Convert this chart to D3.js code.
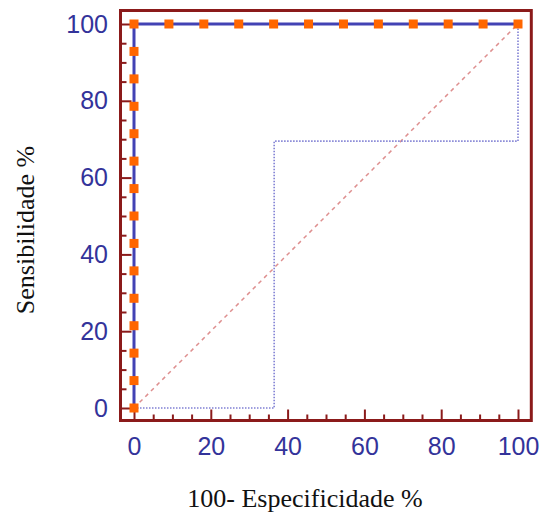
<!DOCTYPE html>
<html>
<head>
<meta charset="utf-8">
<script src="https://cdn.jsdelivr.net/npm/d3@7"></script>
<style>
  html, body { margin: 0; padding: 0; background: #fff; }
  svg { display: block; }
</style>
</head>
<body>
<svg id="chart" width="541" height="517"></svg>
<script>
// ---- Data ----
const rocFpr = [0, 0, 0, 0, 0, 0, 0, 0, 0, 0, 0, 0, 0, 0, 0,
                9.09, 18.18, 27.27, 36.36, 45.45, 54.55, 63.64, 72.73, 81.82, 90.91, 100];
const rocSens = [0, 7.14, 14.29, 21.43, 28.57, 35.71, 42.86, 50, 57.14, 64.29, 71.43, 78.57, 85.71, 92.86, 100,
                 100, 100, 100, 100, 100, 100, 100, 100, 100, 100, 100];
const boundFpr = [0, 36.5, 36.5, 100, 100];
const boundSens = [0, 0, 69.5, 69.5, 100];
const diagFpr = [0, 100];
const diagSens = [0, 100];
const xTicks = [0, 20, 40, 60, 80, 100];
const yTicks = [0, 20, 40, 60, 80, 100];
const minorTicks = [5, 10, 15, 25, 30, 35, 45, 50, 55, 65, 70, 75, 85, 90, 95];
const xTitle = "100- Especificidade %";
const yTitle = "Sensibilidade %";

// ---- Layout ----
const svg = d3.select("#chart");
const frame = { left: 120.5, right: 531.3, top: 10.5, bottom: 420.5 };
const x = d3.scaleLinear().domain([0, 100]).range([134, 518]);
const y = d3.scaleLinear().domain([0, 100]).range([408, 24]);

const maroon = "#8b1a1a";
const labelBlue = "#33339a";

// Axes (ticks inward)
const gx = svg.append("g").attr("transform", `translate(0,${frame.bottom})`)
  .call(d3.axisBottom(x).tickValues(xTicks).tickSizeInner(-11).tickSizeOuter(0).tickPadding(17));
const gxm = svg.append("g").attr("transform", `translate(0,${frame.bottom})`)
  .call(d3.axisBottom(x).tickValues(minorTicks).tickSizeInner(-6).tickSizeOuter(0).tickFormat(""));
const gy = svg.append("g").attr("transform", `translate(${frame.left},0)`)
  .call(d3.axisLeft(y).tickValues(yTicks).tickSizeInner(-11).tickSizeOuter(0).tickPadding(12.5));
const gym = svg.append("g").attr("transform", `translate(${frame.left},0)`)
  .call(d3.axisLeft(y).tickValues(minorTicks).tickSizeInner(-6).tickSizeOuter(0).tickFormat(""));

[gx, gxm, gy, gym].forEach(g => {
  g.select(".domain").remove();
  g.selectAll(".tick line").attr("stroke", maroon).attr("stroke-width", 2);
  g.selectAll(".tick text")
    .attr("fill", labelBlue)
    .style("font-family", "'Liberation Sans', Arial, sans-serif")
    .style("font-size", "25px");
});

// Frame
svg.append("rect")
  .attr("x", frame.left).attr("y", frame.top)
  .attr("width", frame.right - frame.left).attr("height", frame.bottom - frame.top)
  .attr("fill", "none").attr("stroke", maroon).attr("stroke-width", 3);

const line = d3.line().x(d => x(d[0])).y(d => y(d[1]));

// Diagonal reference
svg.append("path")
  .datum(diagFpr.map((v, i) => [v, diagSens[i]]))
  .attr("d", line)
  .attr("fill", "none").attr("stroke", "#de8f8f").attr("stroke-width", 1.5)
  .attr("stroke-dasharray", "4,4");

// Confidence bound (dotted)
svg.append("path")
  .datum(boundFpr.map((v, i) => [v, boundSens[i]]))
  .attr("d", line)
  .attr("fill", "none").attr("stroke", "#8080d4").attr("stroke-width", 1.6)
  .attr("stroke-dasharray", "1.5,1.5");

// ROC curve
const rocData = rocFpr.map((v, i) => [v, rocSens[i]]);
svg.append("path")
  .datum(rocData)
  .attr("d", line)
  .attr("fill", "none").attr("stroke", "#4242b4").attr("stroke-width", 3);

// Markers
const ms = 9;
svg.append("g").selectAll("rect")
  .data(rocData).join("rect")
  .attr("x", d => x(d[0]) - ms / 2)
  .attr("y", d => y(d[1]) - ms / 2)
  .attr("width", ms).attr("height", ms)
  .attr("fill", "#ff6600");

// Titles
svg.append("text")
  .attr("x", 305).attr("y", 507)
  .attr("text-anchor", "middle")
  .style("font-family", "'Liberation Serif', 'Times New Roman', serif")
  .style("font-size", "26px")
  .attr("fill", "#111")
  .text(xTitle);

svg.append("text")
  .attr("transform", "translate(34,230) rotate(-90)")
  .attr("text-anchor", "middle")
  .style("font-family", "'Liberation Serif', 'Times New Roman', serif")
  .style("font-size", "26px")
  .attr("fill", "#111")
  .text(yTitle);
</script>
</body>
</html>
